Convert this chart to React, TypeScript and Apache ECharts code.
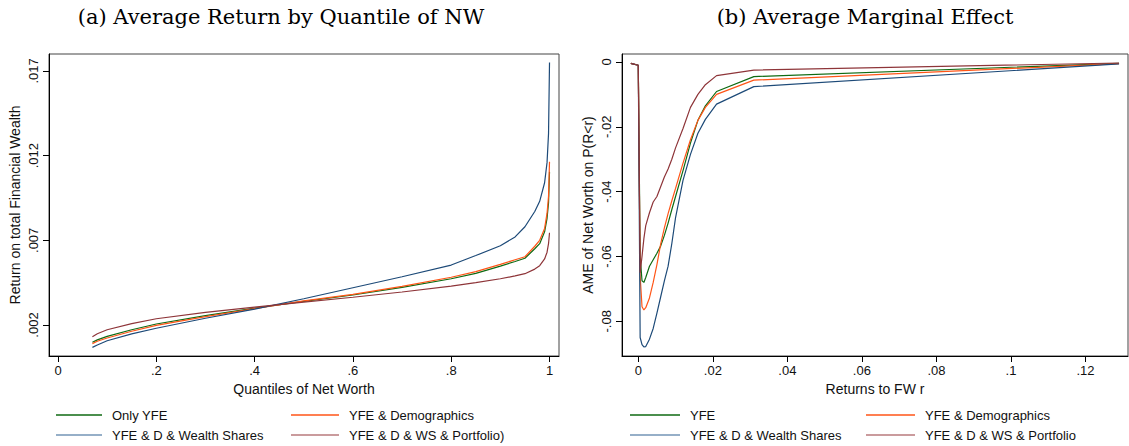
import React, { useEffect, useRef } from "react";
import * as echarts from "echarts";

// Panel (a): average return on total financial wealth by net-worth quantile
const quantiles = [0.07, 0.08, 0.1, 0.15, 0.2, 0.3, 0.4, 0.5, 0.6, 0.7, 0.8, 0.85, 0.9, 0.93, 0.95, 0.97, 0.98, 0.99, 0.995, 0.998, 1.0];
const retOnlyYFE = [0.00098, 0.00112, 0.00133, 0.00172, 0.00206, 0.00255, 0.003, 0.0034, 0.00377, 0.00422, 0.00473, 0.00505, 0.00548, 0.00575, 0.00594, 0.0065, 0.0068, 0.0075, 0.0083, 0.0092, 0.01105];
const retDemog = [0.0009, 0.00104, 0.00123, 0.00163, 0.00198, 0.0025, 0.00297, 0.00343, 0.00381, 0.00428, 0.00482, 0.00515, 0.00558, 0.00585, 0.00603, 0.00665, 0.007, 0.0077, 0.0086, 0.0096, 0.01164];
const retWealthShares = [0.00068, 0.00082, 0.00107, 0.00148, 0.00181, 0.0024, 0.00294, 0.00355, 0.0042, 0.00485, 0.00554, 0.0061, 0.00668, 0.0072, 0.0078, 0.0087, 0.0093, 0.0104, 0.0116, 0.0133, 0.0175];
const retPortfolio = [0.00131, 0.00148, 0.00172, 0.00208, 0.00237, 0.00275, 0.00306, 0.00335, 0.00364, 0.00395, 0.0043, 0.0045, 0.00473, 0.0049, 0.00503, 0.0053, 0.0055, 0.0059, 0.0063, 0.0068, 0.00745];

// Panel (b): average marginal effect of net worth on P(R<r)
const returnsR = [-0.002, 0, 0.0005, 0.001, 0.0015, 0.002, 0.003, 0.004, 0.005, 0.006, 0.007, 0.008, 0.009, 0.01, 0.012, 0.014, 0.016, 0.018, 0.021, 0.031, 0.129];
const ameYFE = [-0.0004, -0.001, -0.06, -0.0675, -0.068, -0.0665, -0.063, -0.061, -0.059, -0.0568, -0.0535, -0.0497, -0.0455, -0.0415, -0.0335, -0.025, -0.018, -0.0135, -0.0091, -0.0045, -0.0004];
const ameDemog = [-0.0004, -0.001, -0.066, -0.0755, -0.0765, -0.0758, -0.0728, -0.068, -0.0625, -0.0562, -0.0512, -0.0468, -0.0428, -0.039, -0.0312, -0.024, -0.018, -0.014, -0.01, -0.0056, -0.0005];
const ameWealthShares = [-0.0004, -0.001, -0.085, -0.0872, -0.0879, -0.0878, -0.0855, -0.0822, -0.0775, -0.0725, -0.0675, -0.063, -0.056, -0.048, -0.0365, -0.0285, -0.022, -0.0177, -0.013, -0.0076, -0.0006];
const amePortfolio = [-0.0004, -0.001, -0.065, -0.06, -0.0545, -0.0505, -0.0465, -0.0432, -0.0415, -0.0385, -0.0355, -0.033, -0.03, -0.0265, -0.0205, -0.014, -0.01, -0.007, -0.0042, -0.0025, -0.0003];

// Tick values
const quantileTicks = [0, 0.2, 0.4, 0.6, 0.8, 1];
const returnTicks = [0.002, 0.007, 0.012, 0.017];
const rTicks = [0, 0.02, 0.04, 0.06, 0.08, 0.1, 0.12];
const ameTicks = [-0.08, -0.06, -0.04, -0.02, 0];

const namesA = ["Only YFE", "YFE & Demographics", "YFE & D & Wealth Shares", "YFE & D & WS & Portfolio)"];
const namesB = ["YFE", "YFE & Demographics", "YFE & D & Wealth Shares", "YFE & D & WS & Portfolio"];

const COLORS = ["#0f6a12", "#ff5517", "#1d4a78", "#8e3539"];
const LEGEND_COLORS = ["#0f6a12", "#ff5517", "#7394b6", "#b87a7c"];

const SANS = "'Liberation Sans', Arial, sans-serif";
const SERIF = "'DejaVu Serif', serif";

// Stata-style numbers: drop the leading zero (".02", "-.08")
const fmt = (v: number) => String(+v.toFixed(6)).replace(/^(-?)0\./, "$1.");

const zip = (xs: number[], ys: number[]) => xs.map((x, i) => [x, ys[i]]);

function valueAxis(
  gridIndex: number,
  min: number,
  max: number,
  ticks: number[],
  name: string,
  vertical: boolean
) {
  return {
    type: "value",
    gridIndex,
    min,
    max,
    splitLine: { show: false },
    axisLine: { show: true, onZero: false, lineStyle: { color: "#000", width: 1 } },
    axisTick: { show: true, length: 6, customValues: ticks, lineStyle: { color: "#000", width: 1 } },
    axisLabel: {
      customValues: ticks,
      formatter: fmt,
      rotate: vertical ? 90 : 0,
      margin: vertical ? 9 : 8,
      fontSize: 13,
      color: "#111",
      fontFamily: SANS,
    },
    name,
    nameLocation: "middle",
    nameGap: vertical ? 27 : 23,
    nameTextStyle: { fontSize: 14, color: "#111", fontFamily: SANS },
  };
}

function legendItem(name: string, color: string, left: number, top: number, width: number) {
  return {
    left,
    top,
    padding: 0,
    itemWidth: width,
    itemHeight: 1.6,
    icon: "rect",
    selectedMode: false,
    data: [{ name, itemStyle: { color } }],
    textStyle: { fontSize: 13, color: "#111", fontFamily: SANS, lineHeight: 14, padding: [0, 0, 0, 5] },
  };
}

export default function App() {
  const ref = useRef<HTMLDivElement>(null);

  useEffect(() => {
    if (!ref.current) return;
    const chart = echarts.init(ref.current, undefined, { renderer: "svg" });

    const seriesA = [retOnlyYFE, retDemog, retWealthShares, retPortfolio].map((ys, i) => ({
      type: "line",
      name: namesA[i],
      xAxisIndex: 0,
      yAxisIndex: 0,
      data: zip(quantiles, ys),
      showSymbol: false,
      symbol: "none",
      lineStyle: { color: COLORS[i], width: 1.2 },
      itemStyle: { color: COLORS[i] },
    }));
    const seriesB = [ameYFE, ameDemog, ameWealthShares, amePortfolio].map((ys, i) => ({
      type: "line",
      name: namesB[i],
      xAxisIndex: 1,
      yAxisIndex: 1,
      data: zip(returnsR, ys),
      showSymbol: false,
      symbol: "none",
      lineStyle: { color: COLORS[i], width: 1.2 },
      itemStyle: { color: COLORS[i] },
    }));

    const title = (text: string, x: number) => ({
      type: "text",
      x,
      y: 17,
      style: {
        text,
        fontSize: 21,
        fontFamily: SERIF,
        fill: "#000",
        align: "center",
        verticalAlign: "middle",
      },
    });

    chart.setOption({
      animation: false,
      backgroundColor: "#fff",
      grid: [
        { left: 49, top: 54, width: 510, height: 302, show: true, borderColor: "#444", borderWidth: 1 },
        { left: 622, top: 54, width: 506, height: 302, show: true, borderColor: "#444", borderWidth: 1 },
      ],
      xAxis: [
        valueAxis(0, -0.0183, 1.0193, quantileTicks, "Quantiles of Net Worth", false),
        valueAxis(1, -0.00437, 0.1314, rTicks, "Returns to FW r", false),
      ],
      yAxis: [
        valueAxis(0, 0.00017, 0.018, returnTicks, "Return on total Financial Wealth", true),
        valueAxis(1, -0.0907, 0.00247, ameTicks, "AME of Net Worth on P(R<r)", true),
      ],
      legend: [
        legendItem(namesA[0], LEGEND_COLORS[0], 56, 408, 46),
        legendItem(namesA[1], LEGEND_COLORS[1], 291, 408, 48),
        legendItem(namesA[2], LEGEND_COLORS[2], 56, 428, 46),
        legendItem(namesA[3], LEGEND_COLORS[3], 291, 428, 48),
        legendItem(namesB[0], LEGEND_COLORS[0], 630, 408, 50),
        legendItem(namesB[1], LEGEND_COLORS[1], 866, 408, 49),
        legendItem(namesB[2], LEGEND_COLORS[2], 630, 428, 50),
        legendItem(namesB[3], LEGEND_COLORS[3], 866, 428, 49),
      ],
      graphic: [
        title("(a) Average Return by Quantile of NW", 281),
        title("(b) Average Marginal Effect", 865),
      ],
      series: [...seriesA, ...seriesB],
    });

    return () => chart.dispose();
  }, []);

  return (
    <div
      ref={ref}
      style={{ position: "fixed", left: 0, top: 0, width: 1129, height: 446, background: "#fff" }}
    />
  );
}
